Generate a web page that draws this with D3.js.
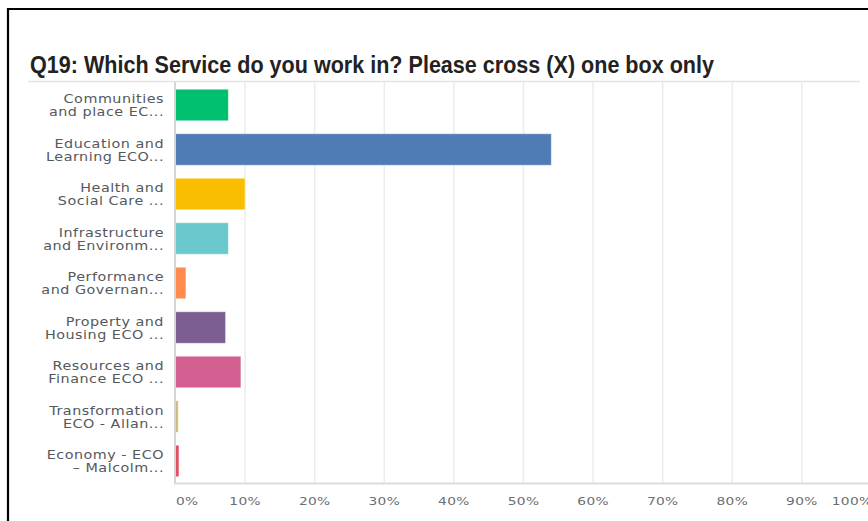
<!DOCTYPE html>
<html>
<head>
<meta charset="utf-8">
<script src="https://cdn.jsdelivr.net/npm/d3@7"></script>
<style>
  html, body { margin: 0; padding: 0; background: #fff; }
  svg { display: block; }
</style>
</head>
<body>
<svg id="chart" width="868" height="521"></svg>
<script>
// Survey question and answer options (label text is wrapped onto two lines)
const title = "Q19: Which Service do you work in? Please cross (X) one box only";
const categories = [
  ["Communities", "and place EC..."],
  ["Education and", "Learning ECO..."],
  ["Health and", "Social Care ..."],
  ["Infrastructure", "and Environm..."],
  ["Performance", "and Governan..."],
  ["Property and", "Housing ECO ..."],
  ["Resources and", "Finance ECO ..."],
  ["Transformation", "ECO - Allan..."],
  ["Economy - ECO", "– Malcolm..."]
];
// Share of responses, percent
const values = [7.6, 54.0, 10.0, 7.6, 1.5, 7.2, 9.4, 0.4, 0.5];
const colors = ["#00bf6f", "#507cb6", "#f9be00", "#6bc8cd", "#ff8b4f", "#7d5e90", "#d25f90", "#cdbb7e", "#e05163"];
const tickValues = [0, 10, 20, 30, 40, 50, 60, 70, 80, 90, 100];
const tickLabels = ["0%", "10%", "20%", "30%", "40%", "50%", "60%", "70%", "80%", "90%", "100%"];

const svg = d3.select("#chart");
const idx = d3.range(categories.length);

const x = d3.scaleLinear().domain([0, 100]).range([175.5, 871.5]);
const y = d3.scaleBand().domain(idx).range([82.75, 483.25]).paddingInner(0.29).paddingOuter(0.145);

// Outer frame (left and top edges)
svg.append("path")
  .attr("d", "M8,521 V9 H868")
  .attr("fill", "none").attr("stroke", "#000").attr("stroke-width", 2.2);

// Title
svg.append("text")
  .attr("x", 30).attr("y", 73)
  .attr("font-family", "Liberation Sans, Arial, sans-serif")
  .attr("font-weight", "bold")
  .attr("font-size", 23.5)
  .attr("fill", "#222")
  .attr("textLength", 684)
  .attr("lengthAdjust", "spacingAndGlyphs")
  .text(title);

// Rule under the title
svg.append("line")
  .attr("x1", 28).attr("x2", 860).attr("y1", 81.5).attr("y2", 81.5)
  .attr("stroke", "#e3e3e3").attr("stroke-width", 1.5);

// Vertical gridlines
svg.append("g").selectAll("line")
  .data(tickValues.slice(1))
  .join("line")
  .attr("x1", d => x(d)).attr("x2", d => x(d))
  .attr("y1", 82).attr("y2", 483)
  .attr("stroke", "#ececec").attr("stroke-width", 1.5);

// Bars
svg.append("g").selectAll("rect")
  .data(idx)
  .join("rect")
  .attr("x", x(0))
  .attr("y", i => y(i))
  .attr("width", i => x(values[i]) - x(0))
  .attr("height", y.bandwidth())
  .attr("fill", i => colors[i])
  .attr("stroke", "rgba(255,255,255,0.5)")
  .attr("stroke-width", 1);

// Axis lines
svg.append("line")
  .attr("x1", 175).attr("x2", 175).attr("y1", 82).attr("y2", 484)
  .attr("stroke", "#d6d6d6").attr("stroke-width", 2);
svg.append("line")
  .attr("x1", 174).attr("x2", 868).attr("y1", 483.5).attr("y2", 483.5)
  .attr("stroke", "#dcdcdc").attr("stroke-width", 2);

// Category labels, right aligned, two lines each
const sx = 1.25;
const lab = svg.append("g").selectAll("text")
  .data(idx)
  .join("text")
  .attr("transform", i => `translate(164,${y(i) + y.bandwidth() / 2}) scale(${sx},1)`)
  .attr("text-anchor", "end")
  .attr("font-family", "DejaVu Sans, sans-serif")
  .attr("font-size", 11.5)
  .attr("letter-spacing", 0.4)
  .attr("fill", "#55585c");
lab.append("tspan").attr("x", 0).attr("y", -2).text(i => categories[i][0]);
lab.append("tspan").attr("x", 0).attr("y", 11.5).text(i => categories[i][1]);

// Percentage tick labels
svg.append("g").selectAll("text")
  .data(tickValues)
  .join("text")
  .attr("transform", (d, i) => {
    const px = i === 0 ? x(d) + 0.5 : i === tickValues.length - 1 ? x(d) + 1 : x(d);
    return `translate(${px},505) scale(1.25,1)`;
  })
  .attr("text-anchor", (d, i) => i === 0 ? "start" : i === tickValues.length - 1 ? "end" : "middle")
  .attr("font-family", "DejaVu Sans, sans-serif")
  .attr("font-size", 11)
  .attr("letter-spacing", 0.3)
  .attr("fill", "#6b6e72")
  .text((d, i) => tickLabels[i]);
</script>
</body>
</html>
